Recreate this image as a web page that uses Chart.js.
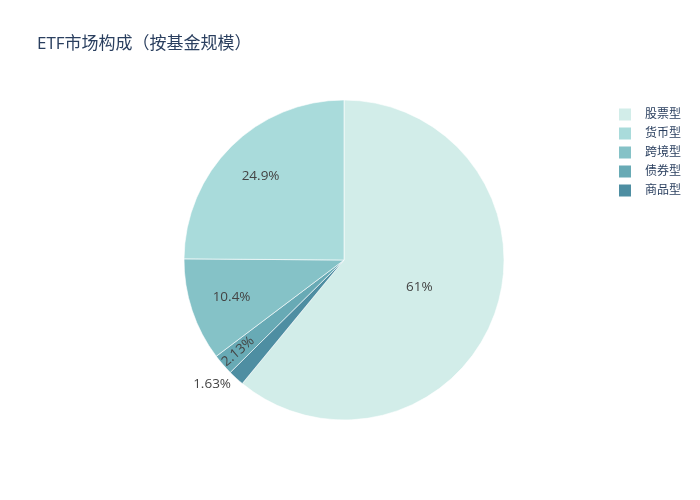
<!DOCTYPE html>
<html>
<head>
<meta charset="utf-8">
<script src="https://cdn.jsdelivr.net/npm/chart.js@4/dist/chart.umd.min.js"></script>
<style>
  html, body { margin: 0; padding: 0; background: #ffffff; }
  #wrap { width: 700px; height: 500px; position: relative; }
</style>
</head>
<body>
<div id="wrap"><canvas id="c" width="700" height="500"></canvas></div>
<script>
// Drawing order (clockwise from 12 o'clock)
const categories = ['股票型', '商品型', '债券型', '跨境型', '货币型'];
const shares = [61.0, 1.63, 2.13, 10.4, 24.9];
const sliceColors = ['#d2ede9', '#4e8ea2', '#68aab5', '#85c2c7', '#a9dbdb'];
// Legend order
const legendOrder = ['股票型', '货币型', '跨境型', '债券型', '商品型'];
const titleText = 'ETF市场构成（按基金规模）';

const FONT = '"Open Sans", "Noto Sans CJK SC", sans-serif';
const total = shares.reduce((a, b) => a + b, 0);

function fmtPct(v) {
  return parseFloat((v / total * 100).toPrecision(3)).toString() + '%';
}

const sliceLabels = {
  id: 'sliceLabels',
  afterDatasetsDraw(chart) {
    const ctx = chart.ctx;
    const meta = chart.getDatasetMeta(0);
    ctx.save();
    ctx.font = '13.5px ' + FONT;
    ctx.fillStyle = '#444444';
    meta.data.forEach((arc, i) => {
      const v = shares[i];
      const frac = v / total;
      const mid = (arc.startAngle + arc.endAngle) / 2;
      const r = arc.outerRadius;
      const txt = fmtPct(v);
      if (frac > 0.5) {
        ctx.textAlign = 'center'; ctx.textBaseline = 'middle';
        ctx.fillText(txt, arc.x + Math.cos(mid) * r * 0.5, arc.y + Math.sin(mid) * r * 0.5);
      } else if (frac > 0.05) {
        ctx.textAlign = 'center'; ctx.textBaseline = 'middle';
        ctx.fillText(txt, arc.x + Math.cos(mid) * r * 0.74, arc.y + Math.sin(mid) * r * 0.74);
      } else if (frac > 0.02) {
        ctx.save();
        ctx.translate(arc.x + Math.cos(mid) * r * 0.875, arc.y + Math.sin(mid) * r * 0.875);
        ctx.rotate(mid - Math.PI);
        ctx.textAlign = 'center'; ctx.textBaseline = 'middle';
        ctx.fillText(txt, 0, 0);
        ctx.restore();
      } else {
        const px = arc.x + Math.cos(mid) * (r + 12);
        const py = arc.y + Math.sin(mid) * (r + 12);
        ctx.textAlign = Math.cos(mid) < 0 ? 'right' : 'left';
        ctx.textBaseline = 'middle';
        ctx.fillText(txt, px + 3, py - 3);
      }
    });
    ctx.restore();
  }
};

const sideLegend = {
  id: 'sideLegend',
  afterDraw(chart) {
    const ctx = chart.ctx;
    ctx.save();
    ctx.font = '12px ' + FONT;
    ctx.textAlign = 'left';
    ctx.textBaseline = 'middle';
    legendOrder.forEach((name, k) => {
      const idx = categories.indexOf(name);
      const y = 114.5 + k * 19;
      ctx.fillStyle = sliceColors[idx];
      ctx.fillRect(619, y - 6, 12, 12);
      ctx.fillStyle = '#2a3f5f';
      ctx.fillText(name, 645, y);
    });
    ctx.restore();
  }
};

new Chart(document.getElementById('c'), {
  type: 'pie',
  data: {
    labels: categories,
    datasets: [{
      data: shares,
      backgroundColor: sliceColors,
      borderColor: '#ffffff',
      borderWidth: 0.6,
      radius: 160
    }]
  },
  options: {
    responsive: false,
    animation: false,
    layout: { padding: { left: 37, right: 49, top: 0, bottom: 50 } },
    plugins: {
      legend: { display: false },
      tooltip: { enabled: false },
      title: {
        display: true,
        text: titleText,
        align: 'start',
        color: '#2a3f5f',
        font: { size: 17, family: FONT, weight: 'normal' },
        padding: { top: 34, bottom: 15.6 }
      }
    }
  },
  plugins: [sliceLabels, sideLegend]
});
</script>
</body>
</html>
